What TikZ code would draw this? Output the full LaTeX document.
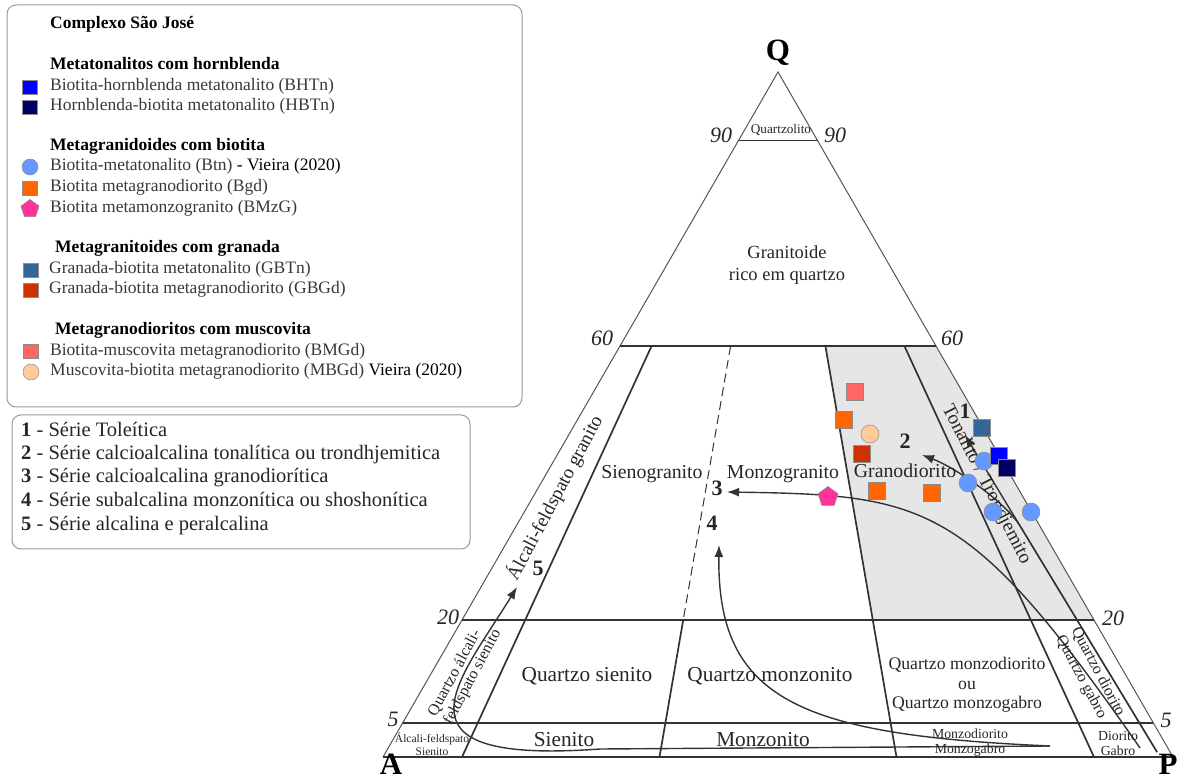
\documentclass[tikz,border=0pt]{standalone}
\usepackage{fontspec}
\setmainfont{Liberation Serif}
\usetikzlibrary{calc,arrows.meta,shapes.geometric}
\definecolor{cBHTn}{HTML}{0000FF}
\definecolor{cHBTn}{HTML}{000066}
\definecolor{cBtn}{HTML}{6699FF}
\definecolor{cBgd}{HTML}{FF6600}
\definecolor{cBMzG}{HTML}{FF3399}
\definecolor{cGBTn}{HTML}{336699}
\definecolor{cGBGd}{HTML}{CC3300}
\definecolor{cBMGd}{HTML}{FF6666}
\definecolor{cMBGd}{HTML}{FFCC99}
\definecolor{greyfill}{HTML}{E6E6E6}
\definecolor{ink}{HTML}{262626}
\definecolor{soft}{HTML}{383838}
\definecolor{mkframe}{HTML}{8C8C8C}
\definecolor{boxframe}{HTML}{9A9A9A}
\definecolor{linecol}{HTML}{333333}
\definecolor{edgecol}{HTML}{555555}
\tikzset{
  txt/.style={inner sep=0pt, text=ink},
  capc/.style={text height=0.66em, text depth=0pt},
  leghead/.style={txt, anchor=west, capc, text=black, font=\bfseries\fontsize{17.5}{20}\selectfont},
  legitem/.style={txt, anchor=west, capc, text=soft, font=\fontsize{17.5}{20}\selectfont},
  serie/.style={txt, anchor=west, capc, font=\fontsize{20.5}{23}\selectfont},
  region/.style={txt, capc, font=\fontsize{19.8}{22}\selectfont},
  bigregion/.style={txt, capc, font=\fontsize{21.3}{24}\selectfont},
  midregion/.style={txt, align=center, font=\fontsize{17.7}{19.5}\selectfont},
  smallregion/.style={txt, align=center, font=\fontsize{13.8}{15}\selectfont},
  tinyregion/.style={txt, align=center, font=\fontsize{11.5}{13}\selectfont},
  bandtext/.style={txt, align=left, font=\fontsize{16}{17.5}\selectfont},
  axisnum/.style={txt, capc, font=\itshape\fontsize{22}{24}\selectfont},
  vertex/.style={txt, capc, text=black, font=\bfseries\fontsize{31}{33}\selectfont},
  trendnum/.style={txt, capc, font=\bfseries\fontsize{22}{24}\selectfont},
  edge/.style={draw=edgecol, line width=1pt},
  div/.style={draw=linecol, line width=1.7pt},
  trend/.style={draw=linecol, line width=1.4pt, -{Latex[length=12pt,width=9pt]}},
  legbox/.style={draw=boxframe, line width=1pt, rounded corners=9pt},
  mksq/.style={rectangle, draw=mkframe, line width=0.5pt, fill=#1, minimum size=17pt, inner sep=0pt},
  mkdot/.style={circle, draw=mkframe, line width=0.5pt, fill=#1, minimum size=18pt, inner sep=0pt},
  mkpent/.style={regular polygon, regular polygon sides=5, draw=mkframe, line width=0.5pt, fill=#1, minimum size=21pt, inner sep=0pt},
  lgsq/.style={mksq=#1, minimum width=15pt, minimum height=14pt},
  lgdot/.style={mkdot=#1, minimum size=16pt},
  lgpent/.style={mkpent=#1, minimum size=19pt},
}
\begin{document}
\begin{tikzpicture}[x=1pt,y=-1pt]
\useasboundingbox (0,0) rectangle (1179,783);

% ---------------- legend 1
\draw[legbox] (7,5) rectangle (522,407);
\node[leghead] (h0) at (50,25) {Complexo São José};
\node[leghead] (h1) at (50,66) {Metatonalitos com hornblenda};
\node[lgsq=cBHTn] (m1) at (30,87) {};
\node[legitem] (t1) at (50,87) {Biotita-hornblenda metatonalito (BHTn)};
\node[lgsq=cHBTn] (m2) at (30,107) {};
\node[legitem] (t2) at (50,107) {Hornblenda-biotita metatonalito (HBTn)};
\node[leghead] (h2) at (50,147) {Metagranidoides com biotita};
\node[lgdot=cBtn] (m3) at (30,167) {};
\node[legitem] (t3) at (50,167) {Biotita-metatonalito (Btn) \textcolor{black}{- Vieira (2020)}};
\node[lgsq=cBgd] (m4) at (30,188) {};
\node[legitem] (t4) at (50,188) {Biotita metagranodiorito (Bgd)};
\node[lgpent=cBMzG] (m5) at (30,209) {};
\node[legitem] (t5) at (50,209) {Biotita metamonzogranito (BMzG)};
\node[leghead] (h3) at (55,249) {Metagranitoides com granada};
\node[lgsq=cGBTn] (m6) at (31,270) {};
\node[legitem] (t6) at (49,270) {Granada-biotita metatonalito (GBTn)};
\node[lgsq=cGBGd] (m7) at (31,290) {};
\node[legitem] (t7) at (49,290) {Granada-biotita metagranodiorito (GBGd)};
\node[leghead] (h4) at (55,331) {Metagranodioritos com muscovita};
\node[lgsq=cBMGd] (m8) at (31,351) {};
\node[legitem] (t8) at (50,352) {Biotita-muscovita metagranodiorito (BMGd)};
\node[lgdot=cMBGd] (m9) at (31,372) {};
\node[legitem] (t9) at (50,372) {Muscovita-biotita metagranodiorito (MBGd) \textcolor{black}{Vieira (2020)}};

% ---------------- legend 2
\draw[legbox] (12,415) rectangle (470,549);
\node[serie] (s1t) at (21,433) {\textbf{1} - Série Toleítica};
\node[serie] (s2t) at (21,456) {\textbf{2} - Série calcioalcalina tonalítica ou trondhjemitica};
\node[serie] (s3t) at (21,479) {\textbf{3} - Série calcioalcalina granodiorítica};
\node[serie] (s4t) at (21,503) {\textbf{4} - Série subalcalina monzonítica ou shoshonítica};
\node[serie] (s5t) at (21,527) {\textbf{5} - Série alcalina e peralcalina};

% ---------------- triangle geometry
\coordinate (A) at (383,757);
\coordinate (P) at (1173,757);
\coordinate (Q) at (778,72);
\coordinate (L90) at ($(A)!0.9!(Q)$);  \coordinate (R90) at ($(P)!0.9!(Q)$);
\coordinate (L60) at ($(A)!0.6!(Q)$);  \coordinate (R60) at ($(P)!0.6!(Q)$);
\coordinate (L20) at ($(A)!0.2!(Q)$);  \coordinate (R20) at ($(P)!0.2!(Q)$);
\coordinate (L5)  at ($(A)!0.05!(Q)$); \coordinate (R5)  at ($(P)!0.05!(Q)$);
\coordinate (t10) at ($(L60)!0.10!(R60)$); \coordinate (b10) at ($(A)!0.10!(P)$);
\coordinate (t35) at ($(L60)!0.35!(R60)$); \coordinate (m35) at ($(L20)!0.35!(R20)$); \coordinate (b35) at ($(A)!0.35!(P)$);
\coordinate (t65) at ($(L60)!0.65!(R60)$); \coordinate (m65) at ($(L20)!0.65!(R20)$); \coordinate (b65) at ($(A)!0.65!(P)$);
\coordinate (t90) at ($(L60)!0.90!(R60)$); \coordinate (b90) at ($(A)!0.90!(P)$);

\fill[greyfill] (t65) -- (R60) -- (R20) -- (m65) -- cycle;

\draw[edge] (A) -- (Q) -- (P);
\draw[div] (A) -- (P);
\draw[div] (L90) -- (R90);
\draw[div] (L60) -- (R60);
\draw[div] (L20) -- (R20);
\draw[div] (L5) -- (R5);
\draw[div] (t10) -- (b10);
\draw[draw=linecol, line width=1pt, dash pattern=on 9pt off 5pt] (t35) -- (m35);
\draw[div] (m35) -- (b35);
\draw[div] (t65) -- (b65);
\draw[div] (t90) -- (b90);

% ---------------- trend curves
\coordinate (c1s) at (1157,752);
\coordinate (c1e) at (965,435);
\coordinate (c2j) at ($(c1s)!0.71!(c1e)$);
\coordinate (c2e) at (922,455);
\coordinate (c3s) at (1140,748);
\coordinate (c3e) at (727,492);
\coordinate (c45s) at (1050,746);
\coordinate (c4e) at (719,545);
\coordinate (c5k) at (600,749);
\coordinate (c5e) at (517,587);
\draw[trend] (c1s) -- (c1e);
\draw[trend] (c1s) -- (c2j) .. controls (1005,501) and (954,467) .. (c2e);
\draw[trend] (c3s) .. controls (969,502) and (927,495) .. (c3e);
\draw[trend] (c45s) .. controls (800,735) and (717,700) .. (c4e);
\draw[trend] (c45s) -- (c5k) .. controls (380,765) and (460,680) .. (c5e);

% ---------------- labels
\node[vertex] (lQ) at (778,57) {Q};
\node[vertex] (lA) at (391,771) {A};
\node[vertex] (lP) at (1168,771) {P};

\node[axisnum] (n90l) at (721,139) {90};
\node[axisnum] (n90r) at (835,139) {90};
\node[axisnum] (n60l) at (602,342) {60};
\node[axisnum] (n60r) at (952,342) {60};
\node[axisnum] (n20l) at (448,621) {20};
\node[axisnum] (n20r) at (1113,622) {20};
\node[axisnum] (n5l) at (393,723) {5};
\node[axisnum] (n5r) at (1166,724) {5};

\node[txt, capc, font=\fontsize{13.2}{15}\selectfont] (rq) at (781,130) {Quartzolito};
\node[txt, align=center, font=\fontsize{18.5}{22}\selectfont] (rgr) at (787,265) {Granitoide\\rico em quartzo};
\node[txt, capc, rotate=62, font=\fontsize{19.2}{22}\selectfont] (rafg) at (557,499) {Álcali-feldspato granito};
\node[region] (rsg) at (652,475) {Sienogranito};
\node[region] (rmg) at (783,475) {Monzogranito};
\node[region] (rgd) at (905,474) {Granodiorito};
\node[txt, capc, rotate=-63, font=\fontsize{19.4}{22}\selectfont] (rtt) at (985,485) {Tonalito / Trondjemito};

\node[bandtext, rotate=62] (rqafs) at (465,673) {Quartzo álcali-\\feldspato sienito};
\node[bigregion] (rqs) at (587,678) {Quartzo sienito};
\node[bigregion] (rqm) at (770,678) {Quartzo monzonito};
\node[midregion] (rqmd) at (967,685) {Quartzo monzodiorito\\ou\\Quartzo monzogabro};
\node[bandtext, rotate=-62] (rqd) at (1090,676) {Quartzo diorito\\Quartzo gabro};

\node[tinyregion] (rafs) at (432,744) {Álcali-feldspato\\Sienito};
\node[bigregion] (rs) at (564,743) {Sienito};
\node[bigregion] (rm) at (763,743) {Monzonito};
\node[smallregion] (rmd) at (970,743) {Monzodiorito\\Monzogabro};
\node[smallregion] (rdg) at (1118,743) {Diorito\\Gabro};

\node[trendnum] (k1) at (965,415) {1};
\node[trendnum] (k2) at (905,445) {2};
\node[trendnum] (k3) at (717,492) {3};
\node[trendnum] (k4) at (712,527) {4};
\node[trendnum] (k5) at (538,572) {5};

% ---------------- data points
\node[mkdot=cBtn] (p1) at (984,461) {};
\node[mkdot=cBtn] (p2) at (968,483) {};
\node[mkdot=cBtn] (p3) at (993,512) {};
\node[mkdot=cBtn] (p4) at (1031,512) {};
\node[mksq=cBMGd] (p5) at (855,392) {};
\node[mksq=cBgd] (p6) at (844,420) {};
\node[mkdot=cMBGd] (p7) at (870,434) {};
\node[mksq=cGBGd] (p8) at (862,454) {};
\node[mksq=cBgd] (p9) at (877,491) {};
\node[mksq=cBgd] (p10) at (932,493) {};
\node[mkpent=cBMzG] (p11) at (828,497) {};
\node[mksq=cGBTn] (p12) at (982,428) {};
\node[mksq=cBHTn] (p13) at (999,456) {};
\node[mksq=cHBTn] (p14) at (1007,468) {};
\end{tikzpicture}
\end{document}
